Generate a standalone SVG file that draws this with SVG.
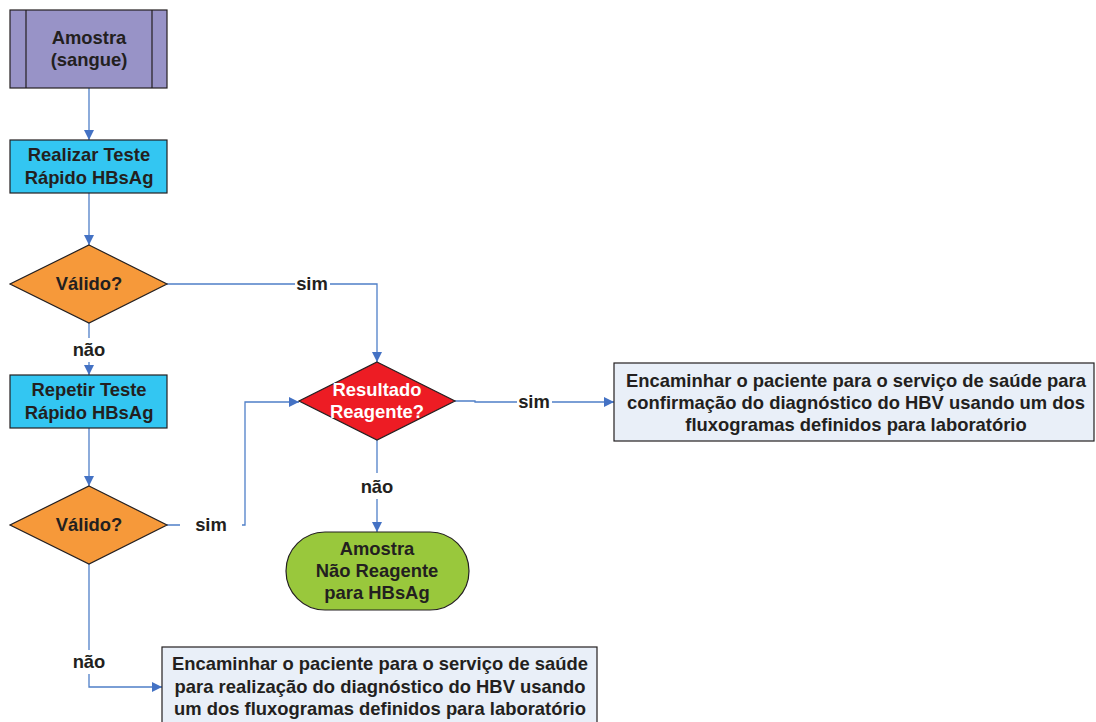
<svg xmlns="http://www.w3.org/2000/svg" width="1096" height="722" viewBox="0 0 1096 722">
<style>
.t{font-family:"Liberation Sans",Arial,sans-serif;font-weight:bold;font-size:18.4px;fill:#231f20;text-anchor:middle}
.w{fill:#ffffff}
.ln{fill:none;stroke:#4f7fc8;stroke-width:1.3}
.sh{stroke:#231f20;stroke-width:1.2}
</style>
<defs>
<marker id="ah" viewBox="0 0 10 10" refX="10" refY="5" markerWidth="10" markerHeight="10" markerUnits="userSpaceOnUse" orient="auto">
<path d="M0,0 L10,5 L0,10 z" fill="#4472c4"/>
</marker>
</defs>
<rect width="1096" height="722" fill="#ffffff"/>
<g id="connectors">
<path class="ln" d="M89,88 V140" marker-end="url(#ah)"/>
<path class="ln" d="M89,193 V245" marker-end="url(#ah)"/>
<path class="ln" d="M167,284 H295 M330,284 H377 V362" marker-end="url(#ah)"/>
<path class="ln" d="M89,323 V338"/>
<path class="ln" d="M89,362 V375" marker-end="url(#ah)"/>
<path class="ln" d="M89,428 V486" marker-end="url(#ah)"/>
<path class="ln" d="M167,525 H180 M242,525 H245 V402 H299" marker-end="url(#ah)"/>
<path class="ln" d="M455,401 H475 V402 H517 M552,402 H614" marker-end="url(#ah)"/>
<path class="ln" d="M377,440 V473"/>
<path class="ln" d="M377,499 V532" marker-end="url(#ah)"/>
<path class="ln" d="M89,564 V650"/>
<path class="ln" d="M89,674 V687 H162" marker-end="url(#ah)"/>
<text class="t" x="312" y="290">sim</text>
<text class="t" x="89" y="356">não</text>
<text class="t" x="211" y="531">sim</text>
<text class="t" x="534" y="408">sim</text>
<text class="t" x="377" y="493">não</text>
<text class="t" x="89" y="668">não</text>
</g>
<g id="amostra">
<rect x="10" y="10" width="157" height="78" fill="#9893c7" class="sh"/>
<path d="M26,10 V88 M152,10 V88" class="sh"/>
<text class="t" x="89" y="44">Amostra</text>
<text class="t" x="89" y="66">(sangue)</text>
</g>
<g id="realizar">
<rect x="10" y="140" width="157" height="53" fill="#33c6f2" class="sh"/>
<text class="t" x="89" y="161">Realizar Teste</text>
<text class="t" x="89" y="184">Rápido HBsAg</text>
</g>
<g id="valido1">
<polygon points="89,245 167,284 89,323 10,284" fill="#f6993a" class="sh"/>
<text class="t" x="89" y="290">Válido?</text>
</g>
<g id="repetir">
<rect x="10" y="375" width="157" height="53" fill="#33c6f2" class="sh"/>
<text class="t" x="89" y="396">Repetir Teste</text>
<text class="t" x="89" y="419">Rápido HBsAg</text>
</g>
<g id="valido2">
<polygon points="89,486 167,525 89,564 10,525" fill="#f6993a" class="sh"/>
<text class="t" x="89" y="531">Válido?</text>
</g>
<g id="resultado">
<polygon points="377,362 455,401 377,440 299,401" fill="#ed1c24" class="sh"/>
<text class="t w" x="377" y="396">Resultado</text>
<text class="t w" x="377" y="418">Reagente?</text>
</g>
<g id="encaminhar1">
<rect x="614" y="363" width="480" height="78" fill="#e9eff8" class="sh"/>
<text class="t" x="856" y="387">Encaminhar o paciente para o serviço de saúde para</text>
<text class="t" x="856" y="409">confirmação do diagnóstico do HBV usando um dos</text>
<text class="t" x="856" y="431">fluxogramas definidos para laboratório</text>
</g>
<g id="naoreagente">
<rect x="286" y="532" width="183" height="78" rx="39" ry="39" fill="#99c83c" class="sh"/>
<text class="t" x="377" y="555">Amostra</text>
<text class="t" x="377" y="577">Não Reagente</text>
<text class="t" x="377" y="599">para HBsAg</text>
</g>
<g id="encaminhar2">
<rect x="162" y="647" width="435" height="80" fill="#e9eff8" class="sh"/>
<text class="t" x="380" y="670">Encaminhar o paciente para o serviço de saúde</text>
<text class="t" x="380" y="693">para realização do diagnóstico do HBV usando</text>
<text class="t" x="380" y="715">um dos fluxogramas definidos para laboratório</text>
</g>
</svg>
